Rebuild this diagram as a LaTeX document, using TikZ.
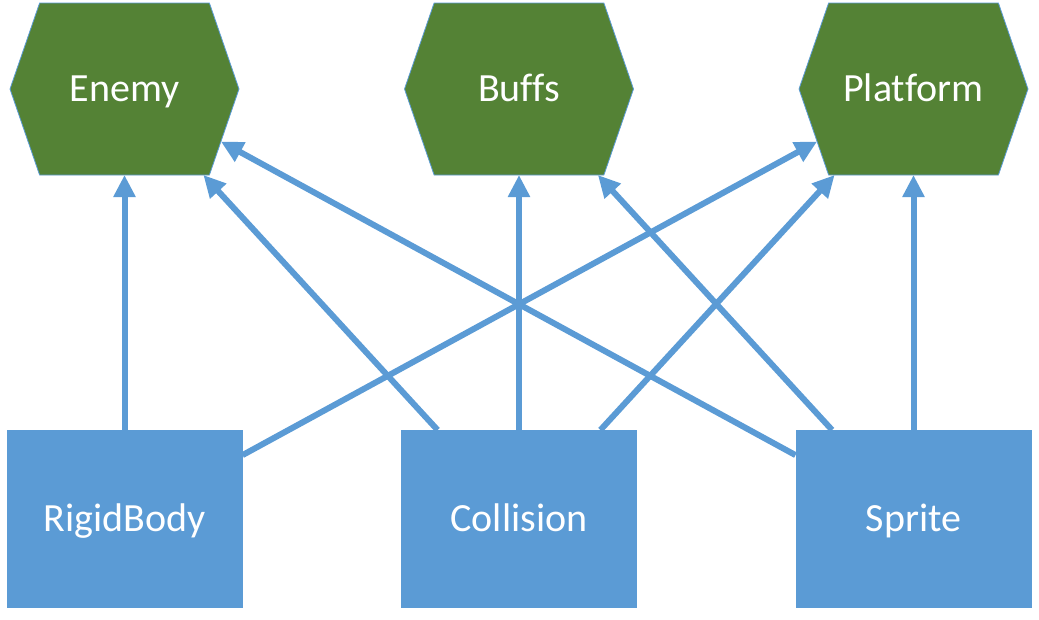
\documentclass[tikz,border=0pt]{standalone}
\usepackage{fontspec}
\setmainfont[Ligatures=NoCommon]{Carlito}
\usetikzlibrary{shapes.symbols,arrows.meta}
\definecolor{hexgreen}{HTML}{548235}
\definecolor{boxblue}{HTML}{5B9BD5}
\begin{document}
\begin{tikzpicture}[x=1pt,y=-1pt,
  lbl/.style={text=white, font=\fontsize{40}{46}\selectfont, text height=29pt, text depth=4pt},
  hexnode/.style={signal, signal to=east and west, signal pointer angle=142,
    minimum width=229pt, minimum height=172pt, inner sep=0pt, outer sep=0pt,
    fill=hexgreen, draw=boxblue, line width=0.8pt, lbl},
  boxnode/.style={rectangle, minimum width=236pt, minimum height=178pt,
    inner sep=0pt, outer sep=0pt, fill=boxblue, lbl},
  link/.style={draw=boxblue, line width=6pt, -{Triangle[length=22pt,width=21pt]}}]
\useasboundingbox (0,0) rectangle (1039,619);
\node[hexnode] (en) at (124.5,89) {Enemy};
\node[hexnode] (bu) at (519,89) {Buffs};
\node[hexnode] (pl) at (913.5,89) {Platform};
\node[boxnode] (rb) at (124.5,519) {RigidBody};
\node[boxnode] (co) at (519,519) {Collision};
\node[boxnode] (sp) at (913.5,519) {Sprite};
\draw[link] (rb) -- (en);
\draw[link] (co) -- (bu);
\draw[link] (sp) -- (pl);
\draw[link] (co) -- (en);
\draw[link] (sp) -- (en);
\draw[link] (rb) -- (pl);
\draw[link] (co) -- (pl);
\draw[link] (sp) -- (bu);
\end{tikzpicture}
\end{document}
